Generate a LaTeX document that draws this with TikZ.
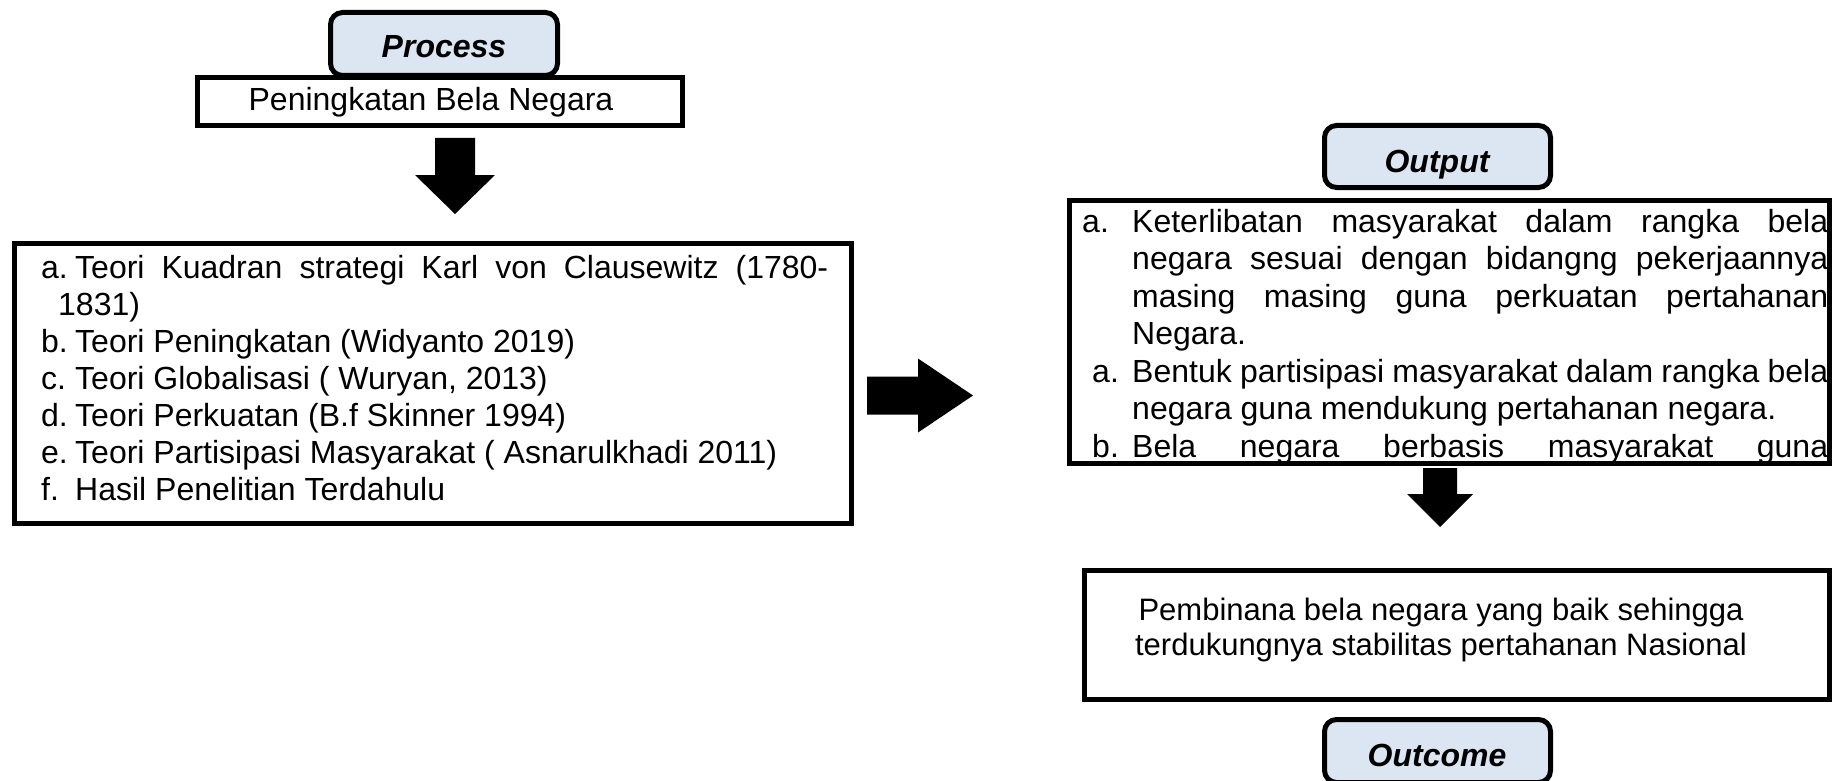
\documentclass[tikz,border=0pt]{standalone}
\usepackage{fontspec}
\setmainfont{Liberation Sans}
\definecolor{boxblue}{HTML}{DCE6F2}
\newcommand{\jline}[2]{\makebox[#1][s]{\spaceskip=0pt\xspaceskip=0pt #2}}
\begin{document}
\begin{tikzpicture}[x=1pt,y=-1pt,
  frame/.style={draw=black, line width=5pt, fill=white, inner sep=0pt, anchor=north west},
  tag/.style={draw=black, line width=5pt, fill=boxblue, rounded corners=12pt, inner sep=0pt, anchor=north west},
  body/.style={font=\fontsize{32}{37.5}\selectfont, inner sep=0pt},
  tagtext/.style={font=\fontsize{32}{37}\selectfont\bfseries\itshape, inner sep=0pt, anchor=base},
  blk/.style={fill=black}]
\useasboundingbox (0,0) rectangle (1834,781);

% boxes
\node[tag, minimum width=227pt, minimum height=63pt] (process) at (328,10) {};
\node[frame, minimum width=485pt, minimum height=48pt] (peng) at (195,75) {};
\node[frame, minimum width=837pt, minimum height=280pt] (teori) at (12,241) {};
\node[tag, minimum width=226pt, minimum height=62pt] (output) at (1322,123) {};
\node[frame, minimum width=760pt, minimum height=263pt] (hasil) at (1067,198) {};
\node[frame, minimum width=745pt, minimum height=129pt] (bina) at (1082,568) {};
\node[tag, minimum width=226pt, minimum height=63pt] (outcome) at (1322,717) {};

% tag texts
\node[tagtext] (processT) at (444,58) {Process};
\node[tagtext] (outputT) at (1437,172.5) {Output};
\node[tagtext] (outcomeT) at (1437,766) {Outcome};

% Peningkatan
\node[body, anchor=base] (pengT) at (431,111) {Peningkatan Bela Negara};

% left list
\node[body, anchor=north west, text width=810pt, align=left, font=\fontsize{32}{37}\selectfont] (teoriT) at (41,252) {%
\spaceskip=0pt\xspaceskip=0pt
\rule{0pt}{26pt}\makebox[34pt][l]{a.}\jline{753pt}{Teori Kuadran strategi Karl von Clausewitz (1780-}\\
\hspace*{17pt}1831)\\
\makebox[34pt][l]{b.}Teori Peningkatan (Widyanto 2019)\\
\makebox[34pt][l]{c.}Teori Globalisasi ( Wuryan, 2013)\\
\makebox[34pt][l]{d.}Teori Perkuatan (B.f Skinner 1994)\\
\makebox[34pt][l]{e.}Teori Partisipasi Masyarakat ( Asnarulkhadi 2011)\\
\makebox[34pt][l]{f.}Hasil Penelitian Terdahulu};

% output list (clipped by its frame)
\begin{scope}
\clip (1070,201) rectangle (1829,463);
\node[body, anchor=north west, text width=760pt, align=left] (hasilT) at (1082,206) {%
\spaceskip=0pt\xspaceskip=0pt
\rule{0pt}{26pt}\makebox[50pt][l]{a.}\jline{696pt}{Keterlibatan masyarakat dalam rangka bela}\\
\hspace*{50pt}\jline{696pt}{negara sesuai dengan bidangng pekerjaannya}\\
\hspace*{50pt}\jline{696pt}{masing masing guna perkuatan pertahanan}\\
\hspace*{50pt}Negara.\\
\hspace*{10pt}\makebox[40pt][l]{a.}\jline{696pt}{Bentuk partisipasi masyarakat dalam rangka bela}\\
\hspace*{50pt}negara guna mendukung pertahanan negara.\\
\hspace*{10pt}\makebox[40pt][l]{b.}\jline{696pt}{Bela negara berbasis masyarakat guna}};
\end{scope}
\draw[line width=5pt] (hasil.north west) ++(2.5,2.5) rectangle ([xshift=-2.5pt,yshift=2.5pt]hasil.south east);

% outcome statement
\node[body, anchor=north, align=center, font=\fontsize{31}{35.5}\selectfont] (binaT) at (1441,594) {%
\spaceskip=0pt\xspaceskip=0pt
\rule{0pt}{26pt}Pembinana bela negara yang baik sehingga\\
terdukungnya stabilitas pertahanan Nasional};

% block arrows
\coordinate (a1) at (455,138);
\fill[blk] (a1) ++(-20,0) -- ++(40,0) -- ++(0,37) -- ++(20,0) -- ++(-40,39) -- ++(-40,-39) -- ++(20,0) -- cycle;
\coordinate (a2) at (867,395);
\fill[blk] (a2) ++(0,-18.5) -- ++(51,0) -- ++(0,-18) -- ++(55,37) -- ++(-55,37) -- ++(0,-18) -- ++(-51,0) -- cycle;
\coordinate (a3) at (1440,468);
\fill[blk] (a3) ++(-17,0) -- ++(34,0) -- ++(0,26) -- ++(16,0) -- ++(-33,33) -- ++(-33,-33) -- ++(16,0) -- cycle;
\end{tikzpicture}
\end{document}
